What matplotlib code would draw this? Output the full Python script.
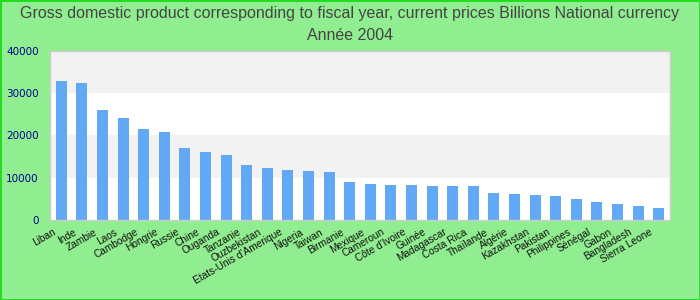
import matplotlib.pyplot as plt
import matplotlib.transforms as mtransforms
import numpy as np

# données
countries = ["Liban", "Inde", "Zambie", "Laos", "Cambodge", "Hongrie", "Russie", "Chine",
             "Ouganda", "Tanzanie", "Ouzbekistan", "Etats-Unis d'Amerique", "Nigeria", "Taiwan",
             "Birmanie", "Mexique", "Cameroun", "Côte d'Ivoire", "Guinée", "Madagascar",
             "Costa Rica", "Thaïlande", "Algérie", "Kazakhstan", "Pakistan", "Philippines",
             "Sénégal", "Gabon", "Bangladesh", "Sierra Leone"]
values = [32900, 32400, 26000, 24150, 21540, 20830, 17040, 16100, 15380, 13020,
          12300, 11830, 11600, 11360, 9000, 8520, 8280, 8280, 8050, 8050,
          8050, 6390, 6150, 5920, 5680, 4970, 4260, 3790, 3310, 2840]
yticks = [0, 10000, 20000, 30000, 40000]

fig = plt.figure(figsize=(7, 3), dpi=100)
fig.patch.set_facecolor("#90EE90")
fig.patch.set_edgecolor("#22DD22")
fig.patch.set_linewidth(2)

ax = fig.add_axes([0.0714, 0.2667, 0.8857, 0.5633])
ax.set_facecolor("white")

# bandes alternées
for i in range(len(yticks) - 1):
    if i % 2 == 1:
        ax.axhspan(yticks[i], yticks[i + 1], color="#F2F2F2", zorder=0, lw=0)

x = np.arange(len(countries))
ax.bar(x, values, width=0.53, color="#62A9F5", zorder=2)

ax.set_xlim(-0.55, len(countries) - 0.45)
ax.set_ylim(0, 40000)
ax.set_yticks(yticks)
ax.set_yticklabels([str(v) for v in yticks], color="#00008B", fontsize=7.5)
ax.set_xticks(x)
ax.set_xticklabels(countries, rotation=30, ha="right", rotation_mode="anchor",
                   fontsize=7.3, family="Liberation Sans", color="#111111")
ax.tick_params(axis="both", length=0)
ax.tick_params(axis="x", pad=5)
ax.tick_params(axis="y", pad=8)

# décalage des étiquettes vers la gauche
shift = mtransforms.ScaledTranslation(-0.09, 0, fig.dpi_scale_trans)
for lab in ax.get_xticklabels():
    lab.set_transform(lab.get_transform() + shift)

for s in ax.spines.values():
    s.set_color("#CCCCCC")
    s.set_linewidth(1)

fig.text(0.5, 0.955, "Gross domestic product corresponding to fiscal year, current prices Billions National currency",
         ha="center", va="center", fontsize=11.5, color="#444444", family="Liberation Sans")
fig.text(0.5, 0.88, "Année 2004", ha="center", va="center", fontsize=11.5,
         color="#444444", family="Liberation Sans")

fig.savefig("out.png", dpi=100, facecolor=fig.get_facecolor(), edgecolor=fig.get_edgecolor())
